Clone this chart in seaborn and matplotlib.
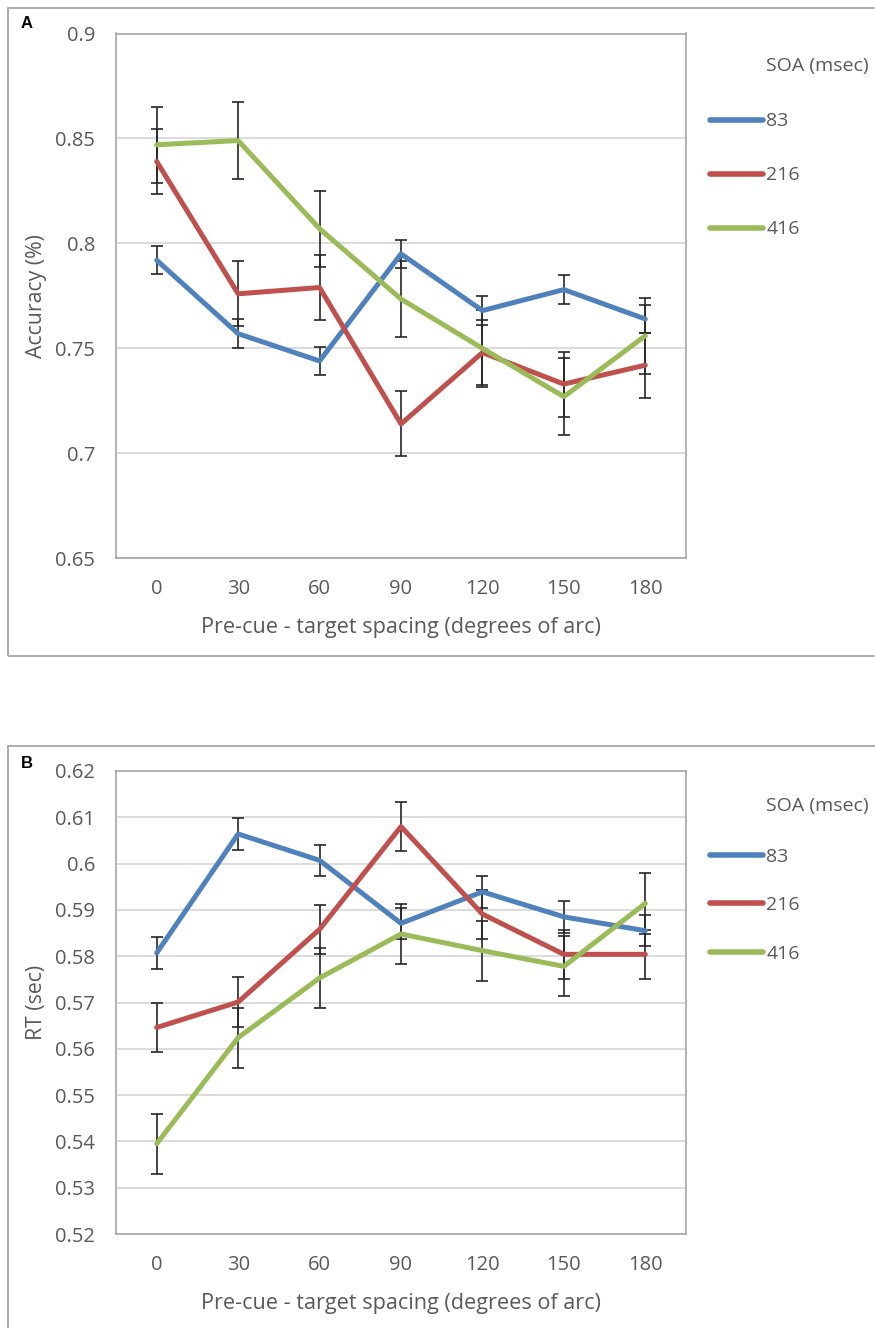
import numpy as np
import pandas as pd
import seaborn as sns
import matplotlib
matplotlib.use("Agg")
import matplotlib.pyplot as plt
from matplotlib.patches import Rectangle

# Pre-cue / target spacing conditions (degrees of arc)
spacing = [0, 30, 60, 90, 120, 150, 180]
soa_levels = ["83", "216", "416"]

# Panel A: accuracy (proportion correct) per SOA
acc_83 = [0.792, 0.757, 0.744, 0.795, 0.768, 0.778, 0.764]
acc_216 = [0.839, 0.776, 0.779, 0.714, 0.748, 0.733, 0.742]
acc_416 = [0.847, 0.849, 0.807, 0.7735, 0.750, 0.727, 0.756]
acc_err_83 = [0.0068] * 7
acc_err_216 = [0.0155] * 7
acc_err_416 = [0.0182] * 7

# Panel B: reaction time (sec) per SOA
rt_83 = [0.5807, 0.6064, 0.6007, 0.5871, 0.5939, 0.5885, 0.5855]
rt_216 = [0.5646, 0.5701, 0.5858, 0.6080, 0.5891, 0.5804, 0.5804]
rt_416 = [0.5395, 0.5624, 0.5753, 0.5848, 0.5812, 0.5778, 0.5914]
rt_err_83 = [0.0034] * 7
rt_err_216 = [0.0053] * 7
rt_err_416 = [0.0065] * 7

palette = {"83": "#4F81BD", "216": "#C0504D", "416": "#9BBB59"}
TEXT = "#595959"
FRAME = "#a6a6a6"
GRID = "#d9d9d9"

sns.set_theme(style="white")
plt.rcParams["font.family"] = ["Open Sans", "DejaVu Sans"]

W, H = 875, 1328
fig = plt.figure(figsize=(W / 100, H / 100), dpi=100)


def px_axes(left, top, right, bottom):
    return fig.add_axes([left / W, 1 - bottom / H, (right - left) / W, (bottom - top) / H])


def long_frame(values, errors):
    rows = []
    for soa, vals, errs in zip(soa_levels, values, errors):
        for s, v, e in zip(spacing, vals, errs):
            rows.append({"spacing": s, "value": v, "err": e, "SOA": soa})
    return pd.DataFrame(rows)


def panel(ax, df, ylim, yticks, ylabel, legend_y, title_y, row_gap):
    # error bars sit underneath the series lines
    for soa in soa_levels:
        sub = df[df["SOA"] == soa]
        ax.errorbar(sub["spacing"], sub["value"], yerr=sub["err"], fmt="none",
                    ecolor="#262626", elinewidth=1.2, capsize=4.3, capthick=1.2,
                    zorder=2)
    sns.lineplot(data=df, x="spacing", y="value", hue="SOA", hue_order=soa_levels,
                 palette=palette, linewidth=3.6, sort=False, ax=ax, zorder=3,
                 solid_capstyle="round", solid_joinstyle="round")
    ax.set_xlim(-15, 195)
    ax.set_xticks(spacing)
    ax.set_xticklabels([str(s) for s in spacing])
    ax.set_ylim(*ylim)
    ax.set_yticks(yticks)
    ax.set_yticklabels([f"{t:g}" for t in yticks])
    ax.yaxis.grid(True, color=GRID, linewidth=1.3)
    ax.set_axisbelow(True)
    for sp in ax.spines.values():
        sp.set_color(FRAME)
        sp.set_linewidth(1.2)
    ax.tick_params(axis="both", length=0, labelsize=14.5, labelcolor=TEXT)
    ax.tick_params(axis="y", pad=15)
    ax.tick_params(axis="x", pad=15)
    ax.set_xlabel("Pre-cue - target spacing (degrees of arc)", fontsize=15.6, color=TEXT,
                  labelpad=13)
    ax.set_ylabel(ylabel, fontsize=15.3, color=TEXT, labelpad=6)

    handles, labels = ax.get_legend_handles_labels()
    ax.legend(handles, labels, loc="upper left", frameon=False,
              bbox_to_anchor=(710 / W, 1 - legend_y / H), bbox_transform=fig.transFigure,
              fontsize=14, handlelength=2.7, handletextpad=0.2,
              labelspacing=row_gap, borderpad=0, borderaxespad=0, labelcolor=TEXT)
    for line in ax.get_legend().get_lines():
        line.set_linewidth(4)
        line.set_solid_capstyle("round")
    fig.text(766 / W, 1 - title_y / H, "SOA (msec)", fontsize=14, color=TEXT,
             va="center", ha="left")


# Panel A
axA = px_axes(116, 33.5, 686, 558.3)
dfA = long_frame([acc_83, acc_216, acc_416], [acc_err_83, acc_err_216, acc_err_416])
panel(axA, dfA, (0.65, 0.9), [0.65, 0.7, 0.75, 0.8, 0.85, 0.9],
      "Accuracy (%)", 112.5, 66, 1.85)

# Panel B
axB = px_axes(116, 771, 686, 1234)
dfB = long_frame([rt_83, rt_216, rt_416], [rt_err_83, rt_err_216, rt_err_416])
panel(axB, dfB, (0.52, 0.62), list(np.round(np.arange(0.52, 0.6201, 0.01), 2)),
      "RT (sec)", 847.5, 806, 1.58)

# Outer panel boxes and panel letters
for top, bottom in [(8, 656), (746, 1340)]:
    fig.patches.append(Rectangle((8 / W, 1 - bottom / H), 1.0, (bottom - top) / H,
                                 transform=fig.transFigure, fill=False,
                                 edgecolor=FRAME, linewidth=1.3))
fig.text(21 / W, 1 - 24 / H, "A", fontsize=12, fontweight="bold", color="black",
         family=["Liberation Sans", "DejaVu Sans"], va="center", ha="left")
fig.text(21 / W, 1 - 763 / H, "B", fontsize=12, fontweight="bold", color="black",
         family=["Liberation Sans", "DejaVu Sans"], va="center", ha="left")

fig.savefig("out.png", dpi=100)
